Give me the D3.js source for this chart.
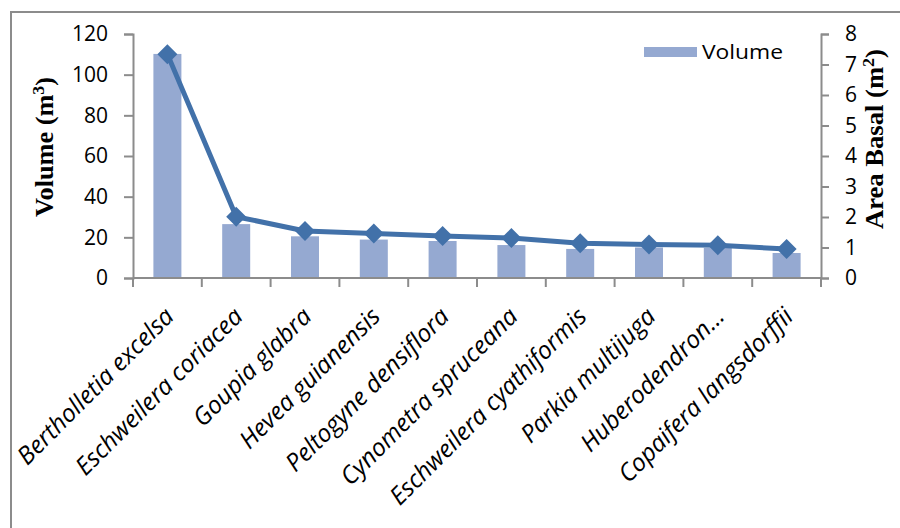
<!DOCTYPE html>
<html>
<head>
<meta charset="utf-8">
<script src="https://cdn.jsdelivr.net/npm/d3@7"></script>
<style>
  html, body { margin: 0; padding: 0; background: #fff; }
  svg { display: block; }
</style>
</head>
<body>
<svg id="chart" width="900" height="528"></svg>
<script>
// Species ranked by volume, with their basal area
const species = [
  "Bertholletia excelsa",
  "Eschweilera coriacea",
  "Goupia glabra",
  "Hevea guianensis",
  "Peltogyne densiflora",
  "Cynometra spruceana",
  "Eschweilera cyathiformis",
  "Parkia multijuga",
  "Huberodendron…",
  "Copaifera langsdorffii"
];
const volume = [110.2, 26.5, 20.5, 18.9, 18.2, 16.2, 14.3, 15.0, 14.8, 12.3];
const basalArea = [7.34, 2.01, 1.54, 1.46, 1.38, 1.31, 1.14, 1.10, 1.07, 0.95];
const volumeTicks = [0, 20, 40, 60, 80, 100, 120];
const areaTicks = [0, 1, 2, 3, 4, 5, 6, 7, 8];

const svg = d3.select("#chart");
const plotLeft = 133, plotRight = 821, plotTop = 34, plotBottom = 278;
const barColor = "#95a9d1", lineColor = "#4271a9", axisColor = "#8c8c8c";
const sansFont = "'Open Sans', Lato, sans-serif";
const serifFont = "'Liberation Serif', 'DejaVu Serif', serif";

// Outer frame
svg.append("rect")
  .attr("x", 11).attr("y", 12).attr("width", 1000).attr("height", 600)
  .attr("fill", "none").attr("stroke", axisColor).attr("stroke-width", 2);

const xBand = d3.scaleBand().domain(species).range([plotLeft, plotRight]);
const yVol = d3.scaleLinear().domain([0, 120]).range([plotBottom, plotTop]);
const yArea = d3.scaleLinear().domain([0, 8]).range([plotBottom, plotTop]);
const cx = d => xBand(d) + xBand.bandwidth() / 2;

// Bars: volume
svg.append("g").selectAll("rect")
  .data(species)
  .join("rect")
  .attr("x", d => cx(d) - 14)
  .attr("width", 28)
  .attr("y", (d, i) => yVol(volume[i]))
  .attr("height", (d, i) => plotBottom - yVol(volume[i]))
  .attr("fill", barColor);

// Axes
function styleAxis(g) {
  g.select(".domain").attr("stroke", axisColor).attr("stroke-width", 2);
  g.selectAll(".tick line").attr("stroke", axisColor).attr("stroke-width", 2);
  g.selectAll(".tick text").attr("fill", "#000").attr("font-family", sansFont).attr("font-size", 21);
}

svg.append("g")
  .attr("transform", `translate(${plotLeft},0)`)
  .call(d3.axisLeft(yVol).tickValues(volumeTicks).tickSize(9).tickSizeOuter(9).tickPadding(16))
  .call(styleAxis);

svg.append("g")
  .attr("transform", `translate(${plotRight},0)`)
  .call(d3.axisRight(yArea).tickValues(areaTicks).tickSize(8).tickSizeOuter(8).tickPadding(16))
  .call(styleAxis);

// Category axis: ticks sit on band boundaries
const boundaries = species.map(d => xBand(d)).concat([plotRight]);
const xAxis = svg.append("g").attr("transform", `translate(0,${plotBottom})`);
xAxis.append("line")
  .attr("x1", plotLeft).attr("x2", plotRight)
  .attr("stroke", axisColor).attr("stroke-width", 2);
xAxis.selectAll("line.tk")
  .data(boundaries)
  .join("line").attr("class", "tk")
  .attr("x1", d => d).attr("x2", d => d)
  .attr("y1", 0).attr("y2", 9)
  .attr("stroke", axisColor).attr("stroke-width", 2);

xAxis.selectAll("text")
  .data(species)
  .join("text")
  .attr("transform", d => `translate(${cx(d) + 8},${40}) rotate(-45)`)
  .attr("text-anchor", "end")
  .attr("font-family", sansFont)
  .attr("font-style", "italic")
  .attr("font-size", 24.5)
  .attr("fill", "#000")
  .text(d => d);

// Line: basal area
const pts = species.map((s, i) => ({ s, v: basalArea[i] }));
const line = d3.line().x(d => cx(d.s)).y(d => yArea(d.v));
svg.append("path")
  .datum(pts)
  .attr("d", line)
  .attr("fill", "none")
  .attr("stroke", lineColor)
  .attr("stroke-width", 5)
  .attr("stroke-linejoin", "round");

svg.append("g").selectAll("path")
  .data(pts)
  .join("path")
  .attr("d", d3.symbol(d3.symbolSquare, 200))
  .attr("transform", d => `translate(${cx(d.s)},${yArea(d.v)}) rotate(45)`)
  .attr("fill", lineColor);

// Axis titles
const leftTitle = svg.append("text")
  .attr("transform", "translate(53,147) rotate(-90)")
  .attr("text-anchor", "middle")
  .attr("font-family", serifFont)
  .attr("font-weight", "bold")
  .attr("font-size", 25)
  .attr("textLength", 140)
  .attr("lengthAdjust", "spacingAndGlyphs")
  .attr("fill", "#000");
leftTitle.append("tspan").text("Volume (m");
leftTitle.append("tspan").attr("baseline-shift", "super").attr("font-size", 17).text("3");
leftTitle.append("tspan").text(")");

const rightTitle = svg.append("text")
  .attr("transform", "translate(883,139) rotate(-90)")
  .attr("text-anchor", "middle")
  .attr("font-family", serifFont)
  .attr("font-weight", "bold")
  .attr("font-size", 25)
  .attr("textLength", 180)
  .attr("lengthAdjust", "spacingAndGlyphs")
  .attr("fill", "#000");
rightTitle.append("tspan").text("Area Basal (m");
rightTitle.append("tspan").attr("baseline-shift", "super").attr("font-size", 17).text("2");
rightTitle.append("tspan").text(")");

// Legend
svg.append("rect")
  .attr("x", 644).attr("y", 47).attr("width", 53).attr("height", 10)
  .attr("fill", barColor);
svg.append("text")
  .attr("x", 702).attr("y", 59)
  .attr("font-family", sansFont)
  .attr("font-size", 20)
  .attr("textLength", 81)
  .attr("lengthAdjust", "spacingAndGlyphs")
  .attr("fill", "#000")
  .text("Volume");
</script>
</body>
</html>
